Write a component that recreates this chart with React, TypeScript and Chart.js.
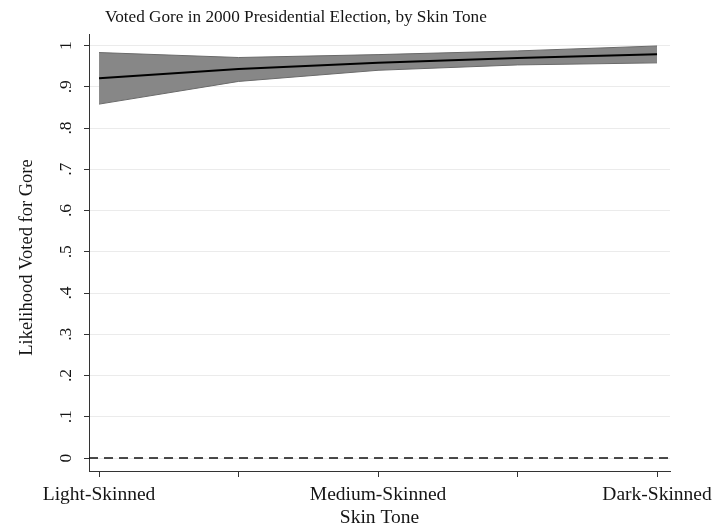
import React, { useEffect, useRef } from "react";
import { Chart, registerables } from "chart.js";

Chart.register(...registerables);

// Skin tone scale positions (1 = lightest, 5 = darkest)
const skinTone = [1, 2, 3, 4, 5];
const skinToneLabels = ["Light-Skinned", "", "Medium-Skinned", "", "Dark-Skinned"];

// Predicted probability of a Gore vote with 95% confidence bounds
const predicted = [0.921, 0.943, 0.958, 0.970, 0.979];
const upperBound = [0.983, 0.971, 0.978, 0.987, 0.999];
const lowerBound = [0.858, 0.913, 0.940, 0.953, 0.958];

const yTickValues = [0, 0.1, 0.2, 0.3, 0.4, 0.5, 0.6, 0.7, 0.8, 0.9, 1];
const yTickLabels = ["0", ".1", ".2", ".3", ".4", ".5", ".6", ".7", ".8", ".9", "1"];

const titleText = "Voted Gore in 2000 Presidential Election, by Skin Tone";
const xTitle = "Skin Tone";
const yTitle = "Likelihood Voted for Gore";

const FONT = '"Liberation Serif", "Times New Roman", serif';
const INK = "#141414";

const textPlugin = {
  id: "stataText",
  afterDatasetsDraw(chart: any) {
    const { ctx, chartArea } = chart;
    const y = chart.scales.y;
    // reference line at zero
    const y0 = y.getPixelForValue(0);
    ctx.save();
    ctx.strokeStyle = "#111";
    ctx.lineWidth = 1.5;
    ctx.setLineDash([9, 6]);
    ctx.beginPath();
    ctx.moveTo(chartArea.left, y0);
    ctx.lineTo(chartArea.right, y0);
    ctx.stroke();
    ctx.restore();
  },
  afterDraw(chart: any) {
    const { ctx, chartArea } = chart;
    const x = chart.scales.x;
    const y = chart.scales.y;
    ctx.save();
    ctx.fillStyle = INK;

    // y tick labels, rotated
    ctx.font = `17.5px ${FONT}`;
    ctx.textAlign = "center";
    ctx.textBaseline = "middle";
    yTickValues.forEach((v, i) => {
      const py = y.getPixelForValue(v);
      ctx.save();
      ctx.translate(66, py);
      ctx.rotate(-Math.PI / 2);
      ctx.fillText(yTickLabels[i], 0, 0);
      ctx.restore();
    });

    // y axis title
    ctx.save();
    ctx.translate(27, (chartArea.top + chartArea.bottom) / 2 + 5);
    ctx.rotate(-Math.PI / 2);
    ctx.font = `18.5px ${FONT}`;
    ctx.fillText(yTitle, 0, 0);
    ctx.restore();

    // x tick labels
    ctx.font = `19.5px ${FONT}`;
    skinTone.forEach((v, i) => {
      if (!skinToneLabels[i]) return;
      ctx.fillText(skinToneLabels[i], x.getPixelForValue(v), 495);
    });

    // x axis title
    ctx.fillText(xTitle, (chartArea.left + chartArea.right) / 2, 518);

    // chart title
    ctx.textAlign = "left";
    ctx.font = `17.2px ${FONT}`;
    ctx.fillText(titleText, 105, 17);
    ctx.restore();
  },
};

export default function App() {
  const canvasRef = useRef<HTMLCanvasElement | null>(null);

  useEffect(() => {
    if (!canvasRef.current) return;
    const chart = new Chart(canvasRef.current, {
      type: "line",
      data: {
        datasets: [
          {
            label: "Predicted",
            data: skinTone.map((s, i) => ({ x: s, y: predicted[i] })),
            borderColor: "#000",
            borderWidth: 2,
            pointRadius: 0,
            fill: false,
            tension: 0,
            order: 0,
          },
          {
            label: "Upper bound",
            data: skinTone.map((s, i) => ({ x: s, y: upperBound[i] })),
            borderColor: "#6a6a6a",
            borderWidth: 1,
            backgroundColor: "#878787",
            pointRadius: 0,
            fill: "+1",
            tension: 0,
            order: 2,
          },
          {
            label: "Lower bound",
            data: skinTone.map((s, i) => ({ x: s, y: lowerBound[i] })),
            borderColor: "#6a6a6a",
            borderWidth: 1,
            pointRadius: 0,
            fill: false,
            tension: 0,
            order: 1,
          },
        ],
      },
      options: {
        responsive: false,
        animation: false,
        layout: { padding: { top: 34, right: 42, bottom: 0, left: 0 } },
        plugins: {
          legend: { display: false },
          tooltip: { enabled: false },
          title: { display: false },
        },
        scales: {
          x: {
            type: "linear",
            min: 0.928,
            max: 5.093,
            afterBuildTicks: (scale: any) => {
              scale.ticks = skinTone.map((v) => ({ value: v }));
            },
            afterFit: (scale: any) => {
              scale.height = 58;
            },
            ticks: { display: false },
            grid: {
              drawOnChartArea: false,
              drawTicks: true,
              tickLength: 6,
              tickColor: "#333",
            },
            border: { display: true, color: "#333", width: 1 },
          },
          y: {
            type: "linear",
            min: -0.0315,
            max: 1.028,
            afterBuildTicks: (scale: any) => {
              scale.ticks = yTickValues.map((v) => ({ value: v }));
            },
            afterFit: (scale: any) => {
              scale.width = 89;
            },
            ticks: { display: false },
            grid: {
              color: "#ebebeb",
              lineWidth: 1,
              drawTicks: true,
              tickLength: 5,
              tickColor: "#333",
            },
            border: { display: true, color: "#333", width: 1 },
          },
        },
      },
      plugins: [textPlugin],
    });
    return () => chart.destroy();
  }, []);

  return (
    <div style={{ position: "absolute", left: 0, top: 0, width: 712, height: 529, background: "#fff" }}>
      <canvas ref={canvasRef} width={712} height={529} style={{ display: "block" }} />
    </div>
  );
}
